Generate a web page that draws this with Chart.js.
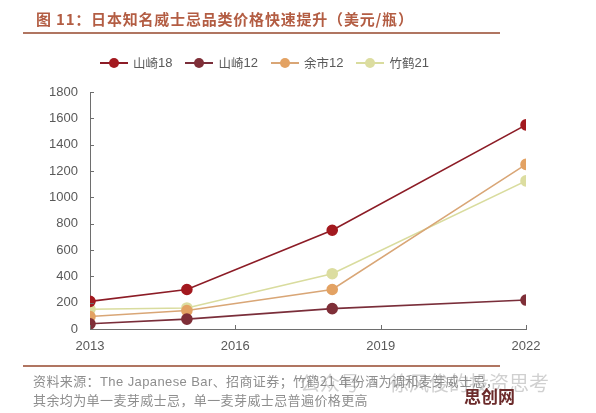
<!DOCTYPE html>
<html lang="zh-CN">
<head>
<meta charset="utf-8">
<script src="https://cdn.jsdelivr.net/npm/chart.js@4.4.1/dist/chart.umd.min.js"></script>
<style>
  html, body { margin: 0; padding: 0; background: #fff; }
  #wrap { position: relative; width: 596px; height: 413px; overflow: hidden; }
  #chart { position: absolute; left: 0; top: 0; }
  .title {
    position: absolute; left: 36px; top: 8px;
    font: bold 15px "Noto Sans CJK SC", sans-serif; letter-spacing: 0.8px;
    color: #b35d43; white-space: nowrap;
  }
  .rule { position: absolute; left: 23px; width: 477px; height: 2px; background: #b07561; }
  #legend { position: absolute; left: 100px; top: 53px; display: flex; white-space: nowrap; }
  .lg-item { display: flex; align-items: center; margin-right: 13px;
    font: 12.5px "Noto Sans CJK SC", sans-serif; color: #595959; }
  .lg-item span.num { font-family: "Liberation Sans", Arial, sans-serif; font-size: 13px; }
  .lg-icon { position: relative; width: 28px; height: 10px; margin-right: 5px; }
  .lg-icon i { position: absolute; left: 0; top: 4px; width: 28px; height: 2px; }
  .lg-icon b { position: absolute; left: 9px; top: 0; width: 10px; height: 10px; border-radius: 50%; }
  .note { position: absolute; left: 33px; font: 13px "Noto Sans CJK SC", sans-serif;
    color: #8e8e8e; white-space: nowrap; letter-spacing: 0.4px; }
  .note span.en { font-family: "Liberation Sans", Arial, sans-serif; }
  .wm { position: absolute; left: 300px; top: 368px; font: 20px "Noto Sans CJK SC", sans-serif;
    color: rgba(120,120,120,0.35); white-space: nowrap; }
  .logo { position: absolute; left: 464px; top: 383px; font: bold 17px "Noto Sans CJK SC", sans-serif;
    color: #6b2a2a; white-space: nowrap; }
</style>
</head>
<body>
<div id="wrap">
  <canvas id="chart" width="596" height="413"></canvas>
  <div class="title">图 11：日本知名威士忌品类价格快速提升（美元/瓶）</div>
  <div class="rule" style="top:32px"></div>
  <div id="legend"></div>
  <div class="rule" style="top:365px"></div>
  <div class="note" style="top:371px">资料来源：<span class="en">The Japanese Bar</span>、招商证券；竹鹤21 年份酒为调和麦芽威士忌，</div>
  <div class="note" style="top:390px">其余均为单一麦芽威士忌，单一麦芽威士忌普遍价格更高</div>
  <div class="wm">公众号 · 徐风俊的投资思考</div>
  <div class="logo">思创网</div>
</div>
<script>
// years on the x axis (data points)
const years = [2013, 2015, 2018, 2022];
const xTicks = [2013, 2016, 2019, 2022];

const yamazaki18 = [210, 300, 750, 1550];
const yamazaki12 = [40, 75, 155, 220];
const yoichi12 = [95, 140, 300, 1250];
const taketsuru21 = [150, 160, 420, 1125];

const seriesNames = ['山崎18', '山崎12', '余市12', '竹鹤21'];
const lineColors = ['#8c1c26', '#7a2e3a', '#d9a676', '#d9dc9e'];
const dotColors = ['#a3191f', '#7f2f38', '#e3a263', '#dcdda0'];

function toPoints(vals) {
  return vals.map((v, i) => ({ x: years[i], y: v }));
}

const allSeries = [yamazaki18, yamazaki12, yoichi12, taketsuru21];

// small inward tick marks on both axes
const innerTicks = {
  id: 'innerTicks',
  afterDraw(chart) {
    const { ctx, scales: { x, y } } = chart;
    ctx.save();
    ctx.strokeStyle = '#6e6e6e';
    ctx.lineWidth = 1;
    ctx.beginPath();
    y.ticks.forEach(t => {
      const py = Math.round(y.getPixelForValue(t.value)) + 0.5;
      ctx.moveTo(x.left, py);
      ctx.lineTo(x.left + 4, py);
    });
    xTicks.forEach(v => {
      const px = Math.round(x.getPixelForValue(v)) + 0.5;
      ctx.moveTo(px, y.bottom);
      ctx.lineTo(px, y.bottom - 4);
    });
    ctx.stroke();
    ctx.restore();
  }
};

const chart = new Chart(document.getElementById('chart'), {
  type: 'line',
  data: {
    datasets: allSeries.map((s, i) => ({
      label: seriesNames[i],
      data: toPoints(s),
      borderColor: lineColors[i],
      backgroundColor: dotColors[i],
      pointBackgroundColor: dotColors[i],
      pointBorderColor: dotColors[i],
      pointRadius: 5,
      borderWidth: 1.6,
      tension: 0
    }))
  },
  options: {
    responsive: false,
    animation: false,
    layout: { padding: { top: 92, left: 0, right: 70, bottom: 54 } },
    plugins: { legend: { display: false }, tooltip: { enabled: false } },
    scales: {
      x: {
        type: 'linear',
        min: 2013, max: 2022,
        afterBuildTicks: axis => { axis.ticks = xTicks.map(v => ({ value: v })); },
        afterFit: axis => { axis.height = 30; },
        grid: { display: false, drawTicks: false },
        border: { display: true, color: '#6e6e6e', width: 1 },
        ticks: {
          padding: 10,
          color: '#595959',
          font: { family: 'Liberation Sans, Arial', size: 13 },
          callback: v => String(v)
        }
      },
      y: {
        min: 0, max: 1800,
        afterFit: axis => { axis.width = 90; },
        grid: { display: false, drawTicks: false },
        border: { display: true, color: '#6e6e6e', width: 1 },
        ticks: {
          stepSize: 200,
          padding: 12,
          color: '#595959',
          font: { family: 'Liberation Sans, Arial', size: 13 },
          callback: v => String(v)
        }
      }
    }
  },
  plugins: [innerTicks]
});

// html legend built from the chart's datasets
const legendEl = document.getElementById('legend');
chart.data.datasets.forEach(ds => {
  const item = document.createElement('div');
  item.className = 'lg-item';
  const name = ds.label.replace(/\d+$/, '');
  const num = ds.label.slice(name.length);
  item.innerHTML = '<span class="lg-icon"><i style="background:' + ds.borderColor + '"></i><b style="background:' +
    ds.pointBackgroundColor + '"></b></span>' + name + '<span class="num">' + num + '</span>';
  legendEl.appendChild(item);
});
</script>
</body>
</html>
